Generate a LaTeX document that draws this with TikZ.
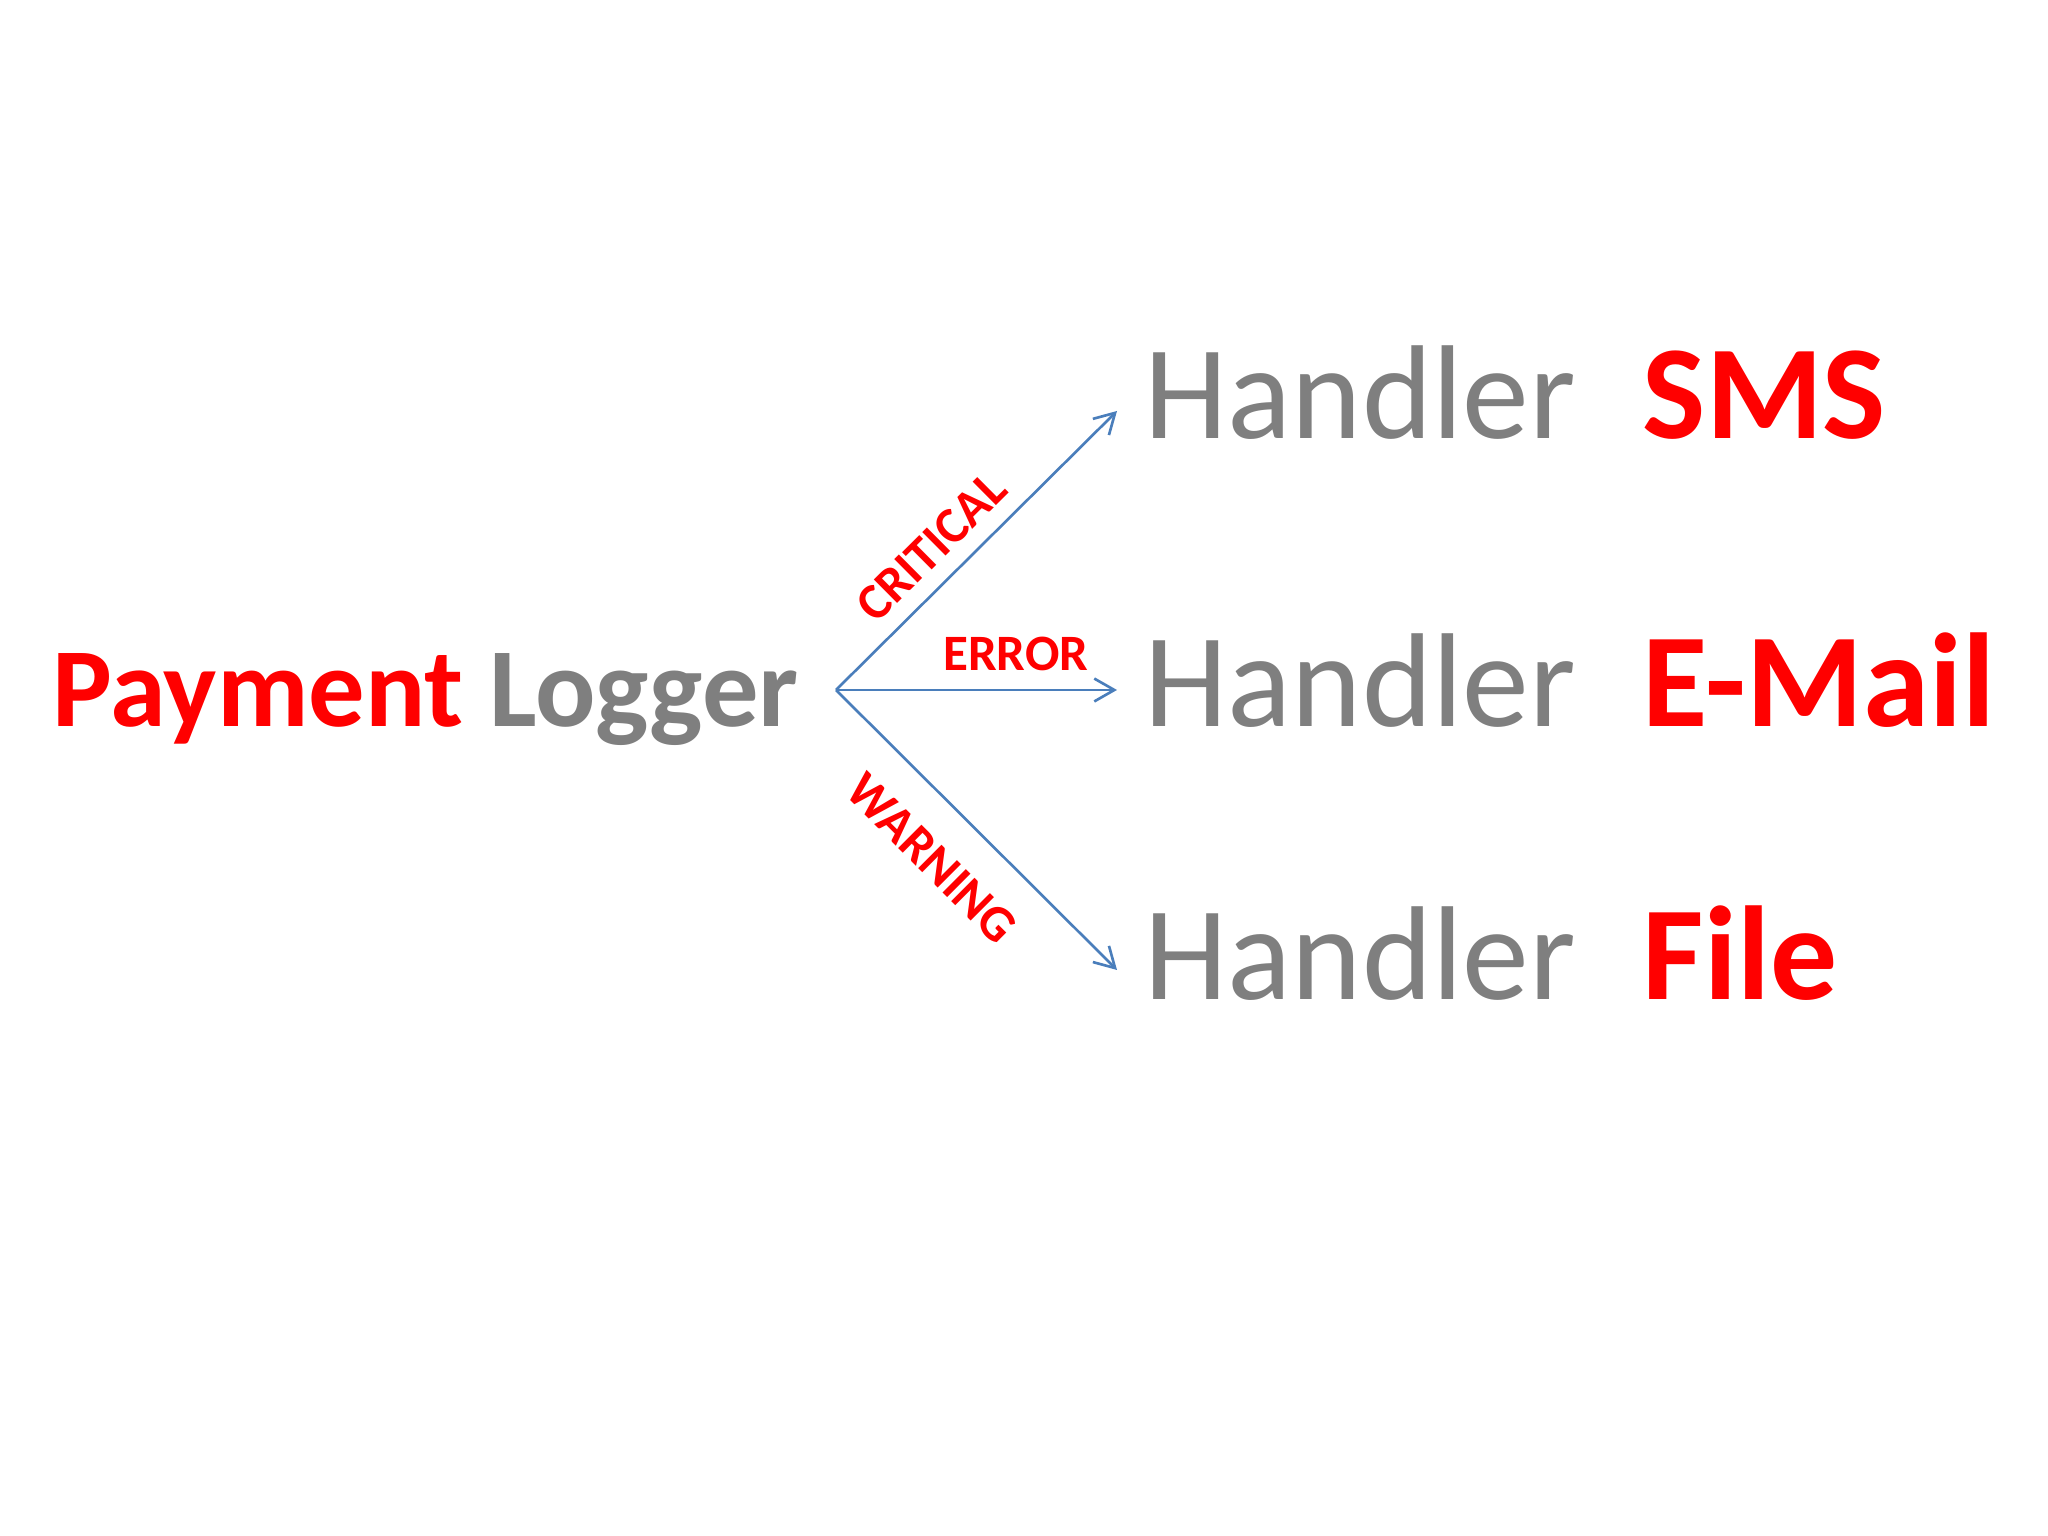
\documentclass[tikz,border=0pt]{standalone}
\usepackage{fontspec}
\setmainfont{Carlito}
\usetikzlibrary{arrows.meta}
\definecolor{logred}{RGB}{255,0,0}
\definecolor{loggray}{RGB}{127,127,127}
\definecolor{logblue}{RGB}{74,126,187}

\begin{document}
\begin{tikzpicture}[x=0.01cm,y=0.01cm,
    title/.style={inner sep=0,anchor=base west,font=\fontsize{32}{38}\selectfont\bfseries},
    handler/.style={inner sep=0,anchor=base west,text=loggray,font=\fontsize{38}{46}\selectfont},
    level/.style={inner sep=0,text=logred,font=\fontsize{14.5}{17}\selectfont\bfseries},
    arr/.style={logblue,line width=0.75pt,-{Straight Barb[length=5.7pt,width=6.5pt]}}]
    \useasboundingbox (0,0) rectangle (2048,1536);
    % logger on the left
    \node[title] (logger) at (52,809) {\textcolor{logred}{Payment} \textcolor{loggray}{Logger}};
    \coordinate (fork) at (836,846);
    % handlers
    \node[handler] (sms) at (1144,1097) {Handler\hspace{0.5em}\textcolor{logred}{\bfseries SMS}};
    \node[handler] (mail) at (1144,809) {Handler\hspace{0.5em}\textcolor{logred}{\bfseries E-Mail}};
    \node[handler] (file) at (1144,536) {Handler\hspace{0.5em}\textcolor{logred}{\bfseries File}};
    \coordinate (smsin) at (1117,1125);
    \coordinate (mailin) at (1117,846);
    \coordinate (filein) at (1117,566);
    % levels
    \draw[arr] (fork) -- node[level,sloped,pos=0.425,above=4.6pt] {CRITICAL} (smsin);
    \draw[arr] (fork) -- node[level,pos=0.64,above=5pt] {ERROR} (mailin);
    \draw[arr] (fork) -- node[level,sloped,pos=0.47,below=9.5pt] {WARNING} (filein);
\end{tikzpicture}
\end{document}
